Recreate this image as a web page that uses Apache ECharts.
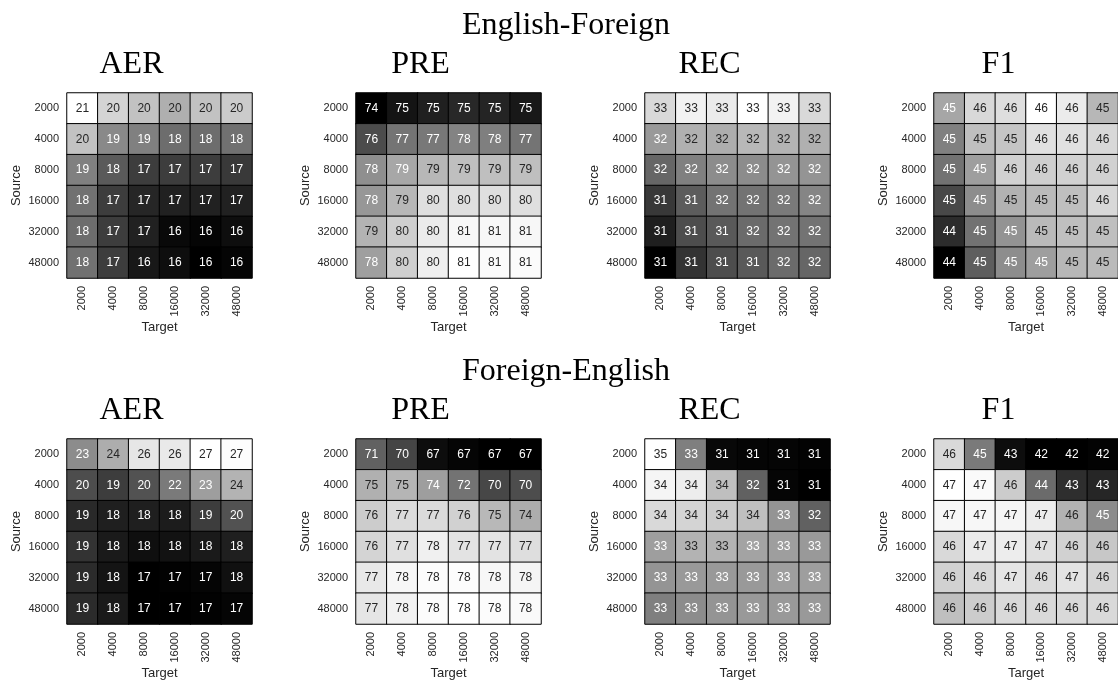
<!DOCTYPE html>
<html>
<head>
<meta charset="utf-8">
<style>
  html, body { margin: 0; padding: 0; background: #ffffff; }
  #chart { width: 1118px; height: 682px; }
</style>
<script src="https://cdn.jsdelivr.net/npm/echarts@6/dist/echarts.min.js"></script>
</head>
<body>
<div id="chart"></div>
<script>
// ---- data ----
const targetLabels = ['2000', '4000', '8000', '16000', '32000', '48000'];
const sourceLabels = ['2000', '4000', '8000', '16000', '32000', '48000'];
const directionTitles = ['English-Foreign', 'Foreign-English'];
const metricTitles = ['AER', 'PRE', 'REC', 'F1'];

// rows = Source (2000 .. 48000), columns = Target (2000 .. 48000)
const efAER = [
  [21.3, 20.4, 20.0, 19.6, 20.0, 20.2],
  [20.0, 18.8, 18.6, 18.2, 18.2, 18.3],
  [18.6, 17.8, 17.2, 17.2, 17.2, 17.1],
  [18.3, 17.2, 16.7, 16.6, 16.6, 16.6],
  [18.2, 17.2, 16.6, 16.1, 16.0, 16.2],
  [18.3, 17.2, 16.4, 16.2, 15.9, 16.0]
];
const efPRE = [
  [74.4, 74.9, 75.2, 75.4, 75.3, 75.0],
  [76.3, 77.3, 77.4, 77.7, 77.6, 77.3],
  [78.0, 78.6, 79.0, 79.2, 79.2, 79.2],
  [78.2, 79.0, 80.0, 80.0, 80.0, 80.0],
  [78.9, 79.6, 80.3, 80.6, 80.6, 80.6],
  [78.4, 79.6, 80.4, 80.8, 80.7, 80.7]
];
const efREC = [
  [32.72, 32.97, 32.90, 33.10, 32.97, 32.72],
  [32.08, 32.31, 32.28, 32.39, 32.34, 32.31],
  [31.57, 31.83, 31.95, 31.95, 32.03, 32.03],
  [31.11, 31.47, 31.70, 31.70, 31.77, 31.88],
  [30.86, 31.32, 31.44, 31.62, 31.70, 31.70],
  [30.55, 31.06, 31.32, 31.44, 31.62, 31.57]
];
const efF1 = [
  [45.23, 45.61, 45.65, 45.90, 45.75, 45.36],
  [44.94, 45.42, 45.46, 45.67, 45.67, 45.61],
  [44.84, 45.17, 45.55, 45.54, 45.55, 45.55],
  [44.52, 45.04, 45.32, 45.38, 45.42, 45.61],
  [44.31, 44.84, 45.09, 45.38, 45.42, 45.42],
  [43.98, 44.69, 45.04, 45.17, 45.36, 45.38]
];
const feAER = [
  [22.62, 23.97, 26.26, 26.42, 27.30, 27.20],
  [20.02, 19.40, 20.23, 21.89, 23.35, 24.18],
  [18.56, 18.15, 18.15, 18.04, 19.40, 20.23],
  [18.98, 17.94, 17.52, 17.63, 17.94, 18.15],
  [18.67, 17.73, 16.90, 17.00, 17.11, 17.55],
  [18.67, 17.94, 16.90, 16.90, 17.00, 17.11]
];
const fePRE = [
  [71.00, 69.71, 67.14, 66.78, 66.55, 66.55],
  [74.62, 74.86, 73.80, 71.82, 69.83, 70.06],
  [75.91, 76.61, 76.61, 76.14, 74.97, 74.48],
  [76.26, 76.85, 77.55, 76.96, 76.96, 76.73],
  [77.20, 77.90, 78.13, 78.13, 77.90, 77.78],
  [77.08, 77.67, 78.13, 78.25, 78.13, 78.02]
];
const feREC = [
  [34.62, 32.62, 30.74, 30.70, 30.70, 30.66],
  [34.46, 34.34, 33.62, 32.14, 30.70, 30.62],
  [34.02, 33.94, 33.82, 33.62, 32.94, 32.14],
  [33.10, 33.42, 33.42, 33.18, 33.10, 33.02],
  [32.94, 33.02, 33.02, 33.02, 33.10, 33.10],
  [32.62, 32.82, 32.94, 33.02, 33.02, 33.02]
];
const feF1 = [
  [46.41, 44.64, 42.60, 42.36, 42.36, 42.41],
  [47.12, 47.02, 46.17, 44.36, 43.22, 43.07],
  [46.98, 46.98, 46.93, 46.79, 45.69, 44.98],
  [46.41, 46.74, 46.79, 46.55, 46.26, 46.07],
  [46.26, 46.41, 46.64, 46.45, 46.60, 46.36],
  [45.93, 46.17, 46.41, 46.41, 46.41, 46.41]
];

const panels = [
  [efAER, efPRE, efREC, efF1],
  [feAER, fePRE, feREC, feF1]
];

// ---- layout ----
const GRID_LEFT0 = 67, GRID_STEP = 289, GRID_SIZE = 185;
const GRID_TOPS = [93, 439];
const SUB_TITLE_Y = [65, 411];
const MAIN_TITLE_Y = [26, 372];
const MAIN_TITLE_X = 566;
const TICK_COLOR = '#262626';
const SANS = '"Liberation Sans", Arial, sans-serif';
const SERIF = '"Liberation Serif", "Times New Roman", serif';

function srgbToLinear(s) {
  return s <= 0.04045 ? s / 12.92 : Math.pow((s + 0.055) / 1.055, 2.4);
}

const grids = [], xAxes = [], yAxes = [], series = [], visualMaps = [], graphics = [];

panels.forEach((row, r) => {
  graphics.push({
    type: 'text', x: MAIN_TITLE_X, y: MAIN_TITLE_Y[r], silent: true,
    style: { text: directionTitles[r], fontSize: 32, fontFamily: SERIF, fill: '#000',
             align: 'center', verticalAlign: 'middle' }
  });
  row.forEach((mat, c) => {
    const idx = r * 4 + c;
    const left = GRID_LEFT0 + GRID_STEP * c;
    const top = GRID_TOPS[r];
    grids.push({ left: left, top: top, width: GRID_SIZE, height: GRID_SIZE, containLabel: false });
    graphics.push({
      type: 'text', x: left + GRID_SIZE / 2 - 28, y: SUB_TITLE_Y[r], silent: true,
      style: { text: metricTitles[c], fontSize: 32, fontFamily: SERIF, fill: '#000',
               align: 'center', verticalAlign: 'middle' }
    });
    xAxes.push({
      type: 'category', gridIndex: idx, data: targetLabels, position: 'bottom',
      axisLine: { show: false }, axisTick: { show: false }, splitLine: { show: false },
      axisLabel: { rotate: 90, margin: 8, fontSize: 11, color: TICK_COLOR, fontFamily: SANS, interval: 0 },
      name: 'Target', nameLocation: 'middle', nameGap: 43,
      nameTextStyle: { fontSize: 13, color: TICK_COLOR, fontFamily: SANS }
    });
    yAxes.push({
      type: 'category', gridIndex: idx, data: sourceLabels, inverse: true,
      axisLine: { show: false }, axisTick: { show: false }, splitLine: { show: false },
      axisLabel: { margin: 8, fontSize: 11, color: TICK_COLOR, fontFamily: SANS, interval: 0 },
      name: 'Source', nameLocation: 'middle', nameGap: 44, nameRotate: 90,
      nameTextStyle: { fontSize: 13, color: TICK_COLOR, fontFamily: SANS }
    });
    let mn = Infinity, mx = -Infinity;
    mat.forEach(rw => rw.forEach(v => { mn = Math.min(mn, v); mx = Math.max(mx, v); }));
    const data = [];
    mat.forEach((rw, yi) => rw.forEach((v, xi) => {
      const g = (v - mn) / (mx - mn);
      const lum = srgbToLinear(g);
      data.push({ value: [xi, yi, v], label: { color: lum > 0.408 ? '#262626' : '#ffffff' } });
    }));
    visualMaps.push({
      type: 'continuous', show: false, seriesIndex: idx, dimension: 2,
      min: mn, max: mx, inRange: { color: ['#000000', '#ffffff'] }
    });
    series.push({
      type: 'heatmap', xAxisIndex: idx, yAxisIndex: idx, data: data,
      itemStyle: { borderColor: '#000000', borderWidth: 1 },
      label: { show: true, fontSize: 12, fontFamily: SANS,
               formatter: p => String(Math.round(p.value[2])) },
      emphasis: { disabled: true }
    });
  });
});

const chart = echarts.init(document.getElementById('chart'), null, { renderer: 'canvas' });
chart.setOption({
  animation: false,
  backgroundColor: '#ffffff',
  grid: grids, xAxis: xAxes, yAxis: yAxes,
  visualMap: visualMaps, series: series, graphic: graphics
});
</script>
</body>
</html>
